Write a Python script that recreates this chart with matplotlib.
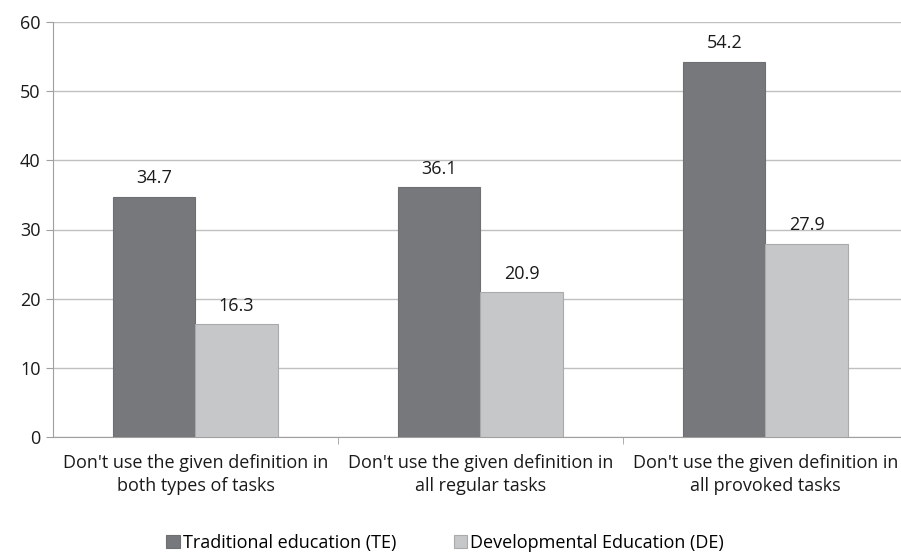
import matplotlib.pyplot as plt
import numpy as np

categories = ["Don't use the given definition in\nboth types of tasks",
              "Don't use the given definition in\nall regular tasks",
              "Don't use the given definition in\nall provoked tasks"]
te_values = [34.7, 36.1, 54.2]
de_values = [16.3, 20.9, 27.9]
series_names = ["Traditional education (TE)", "Developmental Education (DE)"]

plt.rcParams['font.family'] = ['Open Sans', 'DejaVu Sans']

fig = plt.figure(figsize=(9.01, 5.55), dpi=100)
ax = fig.add_axes([53/901, 118/555, 855/901, 415/555])

x = np.arange(len(categories))
w = 0.288
b1 = ax.bar(x - w/2, te_values, w, color='#77787b', edgecolor='#6e6f72', linewidth=0.8,
            label=series_names[0], zorder=3)
b2 = ax.bar(x + w/2, de_values, w, color='#c6c7c9', edgecolor='#a9aaac', linewidth=0.8,
            label=series_names[1], zorder=3)

for bars in (b1, b2):
    for r in bars:
        ax.annotate(f"{r.get_height():.1f}", (r.get_x() + r.get_width()/2, r.get_height()),
                    xytext=(0, 7), textcoords='offset points', ha='center', va='bottom',
                    fontsize=13, color='#1a1a1a')

ax.set_xlim(-0.5, 2.5)
ax.set_ylim(0, 60)
ax.set_yticks(range(0, 61, 10))
ax.yaxis.grid(True, color='#c0c0c0', linewidth=1, zorder=0)
ax.set_axisbelow(True)

ax.set_xticks(x)
ax.set_xticklabels(categories, fontsize=13, color='#1a1a1a', linespacing=1.4)
ax.set_xticks([0.5, 1.5], minor=True)
ax.tick_params(axis='x', which='major', length=0, pad=12)
ax.tick_params(axis='x', which='minor', length=5, color='#a0a0a0')
ax.tick_params(axis='y', length=5, color='#a0a0a0', labelsize=13, labelcolor='#1a1a1a', pad=4)

for s in ['top', 'right']:
    ax.spines[s].set_visible(False)
for s in ['left', 'bottom']:
    ax.spines[s].set_color('#a0a0a0')

fig.legend(handles=[b1, b2], labels=series_names, loc='lower center', ncol=2,
           bbox_to_anchor=(0.494, -0.024), frameon=False, fontsize=13,
           handlelength=0.75, handleheight=0.75, handletextpad=0.15, columnspacing=3.2)

fig.savefig('out.png', dpi=100)
